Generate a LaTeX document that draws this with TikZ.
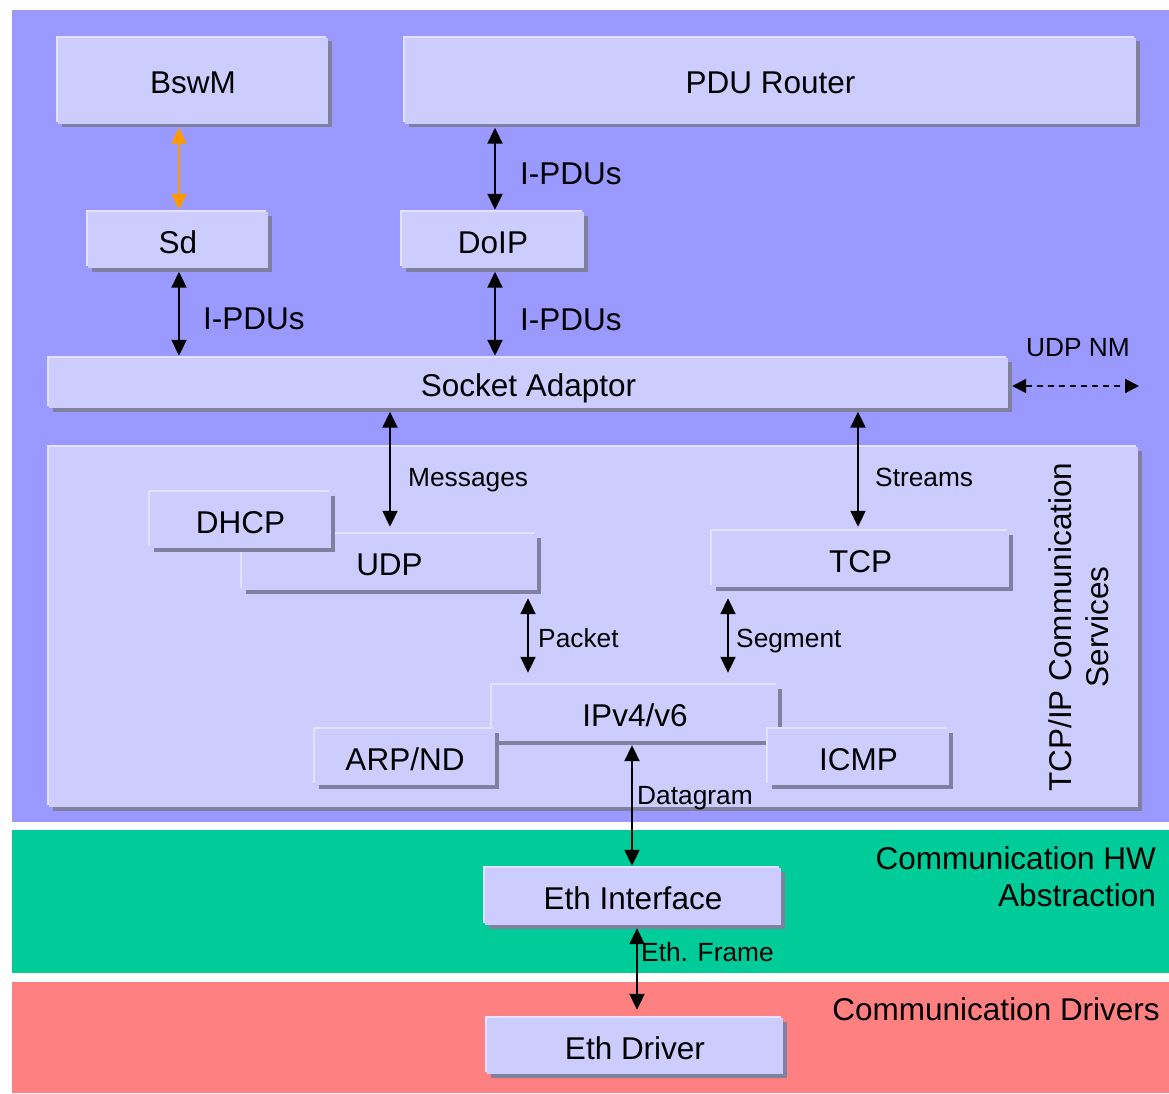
\documentclass[tikz,border=0pt]{standalone}
\usepackage{fontspec}
\setmainfont{Liberation Sans}
\usetikzlibrary{shadows,arrows.meta}
\definecolor{bgblue}{HTML}{9999FF}
\definecolor{bggreen}{HTML}{00CC99}
\definecolor{bgred}{HTML}{FF8080}
\definecolor{boxc}{HTML}{CCCCFF}
\definecolor{shadowc}{HTML}{80809F}
\definecolor{lightc}{HTML}{E2E2FF}
\definecolor{orangec}{HTML}{FF9900}
\newcommand\bigf{\fontsize{31.5}{37}\selectfont}
\newcommand\smallf{\fontsize{26.3}{31}\selectfont}
\tikzset{
  blk/.style={fill=boxc, inner sep=0pt, font=\bigf, text height=26pt, text depth=0pt,
    general shadow={shadow xshift=3.5pt, shadow yshift=-3.5pt, fill=shadowc},
    general shadow={shadow xshift=-2pt, shadow yshift=2pt, fill=lightc}},
  biglbl/.style={inner sep=0pt, font=\bigf},
  smalllbl/.style={inner sep=0pt, font=\smallf},
  biarr/.style={line width=2pt, {Triangle[length=16pt,width=15pt]}-{Triangle[length=16pt,width=15pt]}},
  dasharr/.style={line width=2pt, dash pattern=on 6pt off 5pt, {Triangle[length=14pt,width=14pt]}-{Triangle[length=14pt,width=14pt]}},
}
\begin{document}
\begin{tikzpicture}[x=1pt,y=-1pt]
\useasboundingbox (0,0) rectangle (1169,1094);
% layer bands
\fill[bgblue] (12,10) rectangle (1169,822);
\fill[bggreen] (12,830) rectangle (1169,973);
\fill[bgred] (12,982) rectangle (1169,1093);

% boxes
\node[blk, minimum width=270pt, minimum height=86pt] (bswm) at (193,81) {BswM};
\node[blk, minimum width=731pt, minimum height=86pt] (pdu) at (770.5,81) {PDU Router};
\node[blk, minimum width=180pt, minimum height=56pt] (sd) at (178,240) {Sd};
\node[blk, minimum width=182pt, minimum height=56pt] (doip) at (493,240) {DoIP};
\node[blk, minimum width=959pt, minimum height=50pt] (sock) at (528.5,383) {Socket Adaptor};
\node[blk, minimum width=1089pt, minimum height=360pt] (cont) at (593.5,627) {};
\node[blk, minimum width=295pt, minimum height=56pt] (udp) at (389.5,562) {UDP};
\node[blk, minimum width=181pt, minimum height=56pt] (dhcp) at (240.5,520) {DHCP};
\node[blk, minimum width=297pt, minimum height=56pt] (tcp) at (860.5,559) {TCP};
\node[blk, minimum width=286pt, minimum height=56pt] (ipv) at (635,713) {IPv4/v6};
\node[blk, minimum width=180pt, minimum height=56pt] (arp) at (405,757) {ARP/ND};
\node[blk, minimum width=181pt, minimum height=56pt] (icmp) at (858.5,757) {ICMP};
\node[blk, minimum width=296pt, minimum height=57pt] (ethif) at (633,896.5) {Eth Interface};
\node[blk, minimum width=296pt, minimum height=56pt] (ethdr) at (635,1046) {Eth Driver};

% region labels
\node[biglbl, rotate=90, align=center] (tcplbl) at (1079,627) {TCP/IP Communication\\Services};
\node[biglbl, anchor=north east, align=right] (hwlbl) at (1156,846) {\fontsize{31.5}{38}\selectfont Communication HW\\Abstraction};
\node[biglbl, anchor=base east] (drvlbl) at (1160,1020) {Communication Drivers};

% connector labels
\node[biglbl, anchor=base west] (l1) at (520,184.5) {I-PDUs};
\node[biglbl, anchor=base west] (l2) at (203,329.5) {I-PDUs};
\node[biglbl, anchor=base west] (l3) at (520,330.5) {I-PDUs};
\node[smalllbl, anchor=base] (lnm) at (1078,356.5) {UDP NM};
\node[smalllbl, anchor=base west] (lmsg) at (408,486.5) {Messages};
\node[smalllbl, anchor=base west] (lstr) at (875,486.5) {Streams};
\node[smalllbl, anchor=base west] (lpkt) at (538,647.5) {Packet};
\node[smalllbl, anchor=base west] (lseg) at (736,647.5) {Segment};
\node[smalllbl, anchor=base west] (ldg) at (637,804.5) {Datagram};
\node[smalllbl, anchor=base west] (lef) at (641,961.5) {Eth. Frame};

% x positions of connectors
\coordinate (xa) at (179,0);
\coordinate (xb) at (495,0);
\coordinate (xc) at (390,0);
\coordinate (xd) at (858,0);
\coordinate (xe) at (528,0);
\coordinate (xf) at (728,0);
\coordinate (xg) at (632,0);
\coordinate (xh) at (637,0);
\coordinate (nmR) at (1139,386);

% connectors
\draw[biarr, orangec, shorten <=3.5pt, shorten >=2pt] (xa |- bswm.south) -- (xa |- sd.north);
\draw[biarr, shorten <=3.5pt, shorten >=2pt] (xb |- pdu.south) -- (xb |- doip.north);
\draw[biarr, shorten <=3.5pt, shorten >=2pt] (xa |- sd.south) -- (xa |- sock.north);
\draw[biarr, shorten <=3.5pt, shorten >=2pt] (xb |- doip.south) -- (xb |- sock.north);
\draw[biarr, shorten <=3.5pt, shorten >=7pt] (xc |- sock.south) -- (xc |- udp.north);
\draw[biarr, shorten <=3.5pt, shorten >=4pt] (xd |- sock.south) -- (xd |- tcp.north);
\draw[biarr, shorten <=8pt, shorten >=12pt] (xe |- udp.south) -- (xe |- ipv.north);
\draw[biarr, shorten <=11pt, shorten >=12pt] (xf |- tcp.south) -- (xf |- ipv.north);
\draw[biarr, shorten <=4pt, shorten >=2pt] (xg |- ipv.south) -- (xg |- ethif.north);
\draw[biarr, shorten <=3pt, shorten >=8pt] (xh |- ethif.south) -- (xh |- ethdr.north);
\draw[dasharr, shorten <=4pt] (sock.east |- nmR) -- (nmR);
\end{tikzpicture}
\end{document}
